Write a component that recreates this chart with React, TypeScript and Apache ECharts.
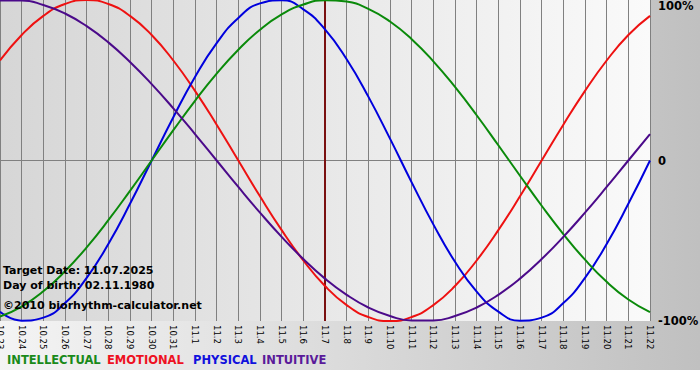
import React, { useEffect, useRef } from "react";
import * as echarts from "echarts";

const days = [
  "10.23", "10.24", "10.25", "10.26", "10.27", "10.28", "10.29", "10.30", "10.31",
  "11.1", "11.2", "11.3", "11.4", "11.5", "11.6", "11.7", "11.8", "11.9", "11.10",
  "11.11", "11.12", "11.13", "11.14", "11.15", "11.16", "11.17", "11.18", "11.19",
  "11.20", "11.21", "11.22",
];

const intellectual = [
  -97.2, -91.0, -81.5, -69.0, -54.1, -37.2, -18.9, 0, 18.9, 37.2, 54.1, 69.0, 81.5, 91.0, 97.2,
  99.9, 99.0, 94.5, 86.6, 75.6, 61.8, 45.8, 28.2, 9.5, -9.5, -28.2, -45.8, -61.8, -75.6, -86.6, -94.5,
];
const emotional = [
  62.3, 78.2, 90.1, 97.5, 100, 97.5, 90.1, 78.2, 62.3, 43.4, 22.3, 0, -22.3, -43.4, -62.3,
  -78.2, -90.1, -97.5, -100, -97.5, -90.1, -78.2, -62.3, -43.4, -22.3, 0, 22.3, 43.4, 62.3, 78.2, 90.1,
];
const physical = [
  -94.2, -99.8, -97.9, -88.8, -73.1, -52.0, -27.0, 0, 27.0, 52.0, 73.1, 88.8, 97.9, 99.8, 94.2,
  81.7, 63.1, 39.8, 13.6, -13.6, -39.8, -63.1, -81.7, -94.2, -99.8, -97.9, -88.8, -73.1, -52.0, -27.0, 0,
];
const intuitive = [
  99.7, 99.7, 96.9, 91.6, 83.7, 73.6, 61.4, 47.6, 32.5, 16.5, 0, -16.5, -32.5, -47.6, -61.4,
  -73.6, -83.7, -91.6, -96.9, -99.7, -99.7, -96.9, -91.6, -83.7, -73.6, -61.4, -47.6, -32.5, -16.5, 0, 16.5,
];

const targetDay = "11.7";
const infoLines = ["Target Date: 11.07.2025", "Day of birth: 02.11.1980", "©2010 biorhythm-calculator.net"];
const legendNames = ["INTELLECTUAL", "EMOTIONAL", "PHYSICAL", "INTUITIVE"];

const FONT = "DejaVu Sans";

export default function App() {
  const ref = useRef<HTMLDivElement>(null);

  useEffect(() => {
    document.body.style.margin = "0";
    document.body.style.background = "#ffffff";
    if (!ref.current) return;
    const chart = echarts.init(ref.current, undefined, { renderer: "svg" });

    const lineColors = ["#0a8a0a", "#ee1111", "#0000dd", "#4b0a8a"];
    const legendColors = ["#1a8a1a", "#ee1122", "#1111dd", "#5a1a9a"];
    const legendX = [7, 107, 193, 262];
    const infoY = [272, 287, 307];

    const mkSeries = (name: string, data: number[], color: string, extra: any = {}) => ({
      name,
      type: "line",
      data,
      smooth: true,
      symbol: "none",
      lineStyle: { color, width: 2 },
      itemStyle: { color },
      z: 3,
      ...extra,
    });

    chart.setOption({
      animation: false,
      backgroundColor: new echarts.graphic.LinearGradient(0, 0, 1, 0, [
        { offset: 0, color: "#f4f4f4" },
        { offset: 1, color: "#c0c0c0" },
      ]),
      grid: {
        left: 0,
        right: 50,
        top: 0,
        bottom: 49,
        containLabel: false,
        outerBoundsMode: "none",
        show: true,
        borderWidth: 0,
        backgroundColor: new echarts.graphic.LinearGradient(0, 0, 1, 0, [
          { offset: 0, color: "#d6d6d6" },
          { offset: 1, color: "#fafafa" },
        ]),
      },
      xAxis: {
        type: "category",
        data: days,
        boundaryGap: false,
        axisLine: { show: false },
        axisTick: { show: true, length: 4, lineStyle: { color: "#808080" } },
        splitLine: { show: true, lineStyle: { color: "#808080", width: 1 } },
        axisLabel: {
          interval: 0,
          rotate: -90,
          margin: 4,
          color: "#000",
          fontFamily: FONT,
          fontSize: 8.5,
        },
      },
      yAxis: {
        type: "value",
        position: "right",
        min: -100,
        max: 100,
        interval: 100,
        axisLine: { show: false },
        axisTick: { show: false },
        splitLine: {
          show: true,
          lineStyle: { color: ["rgba(0,0,0,0)", "#808080", "rgba(0,0,0,0)"], width: 1 },
        },
        axisLabel: {
          margin: 8,
          color: "#000",
          fontFamily: FONT,
          fontWeight: "bold",
          fontSize: 11.5,
          verticalAlignMaxLabel: "top",
          formatter: (v: number) => (v === 0 ? "0" : v + "%"),
        },
      },
      series: [
        mkSeries("EMOTIONAL", emotional, lineColors[1]),
        mkSeries("PHYSICAL", physical, lineColors[2]),
        mkSeries("INTELLECTUAL", intellectual, lineColors[0], {
          markLine: {
            silent: true,
            symbol: "none",
            label: { show: false },
            lineStyle: { color: "#7a1010", width: 2, type: "solid" },
            data: [{ xAxis: targetDay }],
            z: 2,
          },
        }),
        mkSeries("INTUITIVE", intuitive, lineColors[3]),
      ],
      graphic: [
        ...infoLines.map((t, i) => ({
          type: "text",
          left: 3,
          top: infoY[i] - 7,
          z: 10,
          style: {
            text: t,
            fill: "#000",
            font: `bold 11px '${FONT}'`,
          },
        })),
        ...legendNames.map((t, i) => ({
          type: "text",
          left: legendX[i],
          top: 354,
          z: 10,
          style: {
            text: t,
            fill: legendColors[i],
            font: `bold 11.5px '${FONT}'`,
          },
        })),
      ],
    });

    return () => chart.dispose();
  }, []);

  return <div ref={ref} style={{ width: 700, height: 370 }} />;
}
